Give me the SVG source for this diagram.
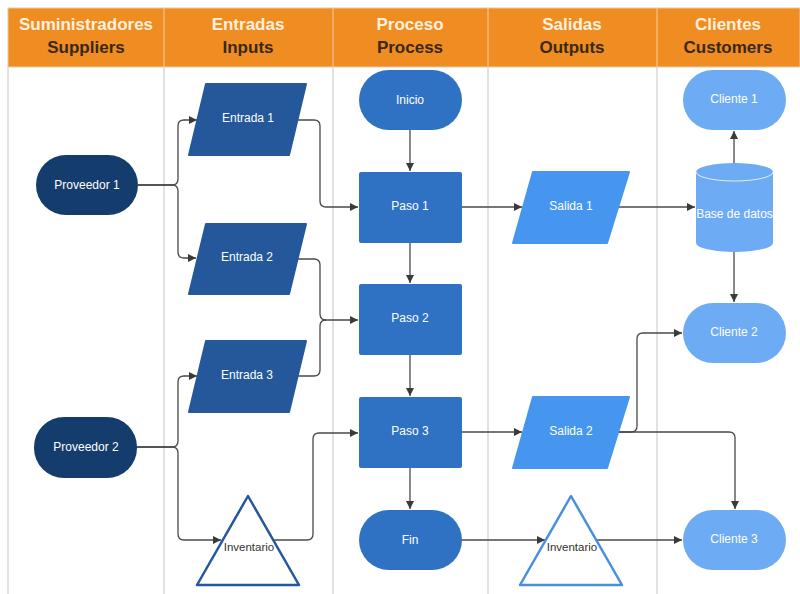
<svg xmlns="http://www.w3.org/2000/svg" width="800" height="594" viewBox="0 0 800 594">
  <defs>
    <marker id="arrow" viewBox="0 0 10 10" refX="10" refY="5" markerWidth="9" markerHeight="8" markerUnits="userSpaceOnUse" orient="auto">
      <path d="M0,0 L10,5 L0,10 Z" fill="#3a3a3a"/>
    </marker>
    <style>
      .hd1 { font-family: "Liberation Sans", Arial, sans-serif; font-weight: bold; font-size: 17px; fill: #fdf1de; text-anchor: middle; }
      .hd2 { font-family: "Liberation Sans", Arial, sans-serif; font-weight: bold; font-size: 17px; fill: #3a2816; text-anchor: middle; }
      .lbl { font-family: "Liberation Sans", Arial, sans-serif; font-size: 12px; fill: #ffffff; text-anchor: middle; dominant-baseline: central; }
      .lbl-dark { font-family: "Liberation Sans", Arial, sans-serif; font-size: 11.5px; fill: #333333; text-anchor: middle; dominant-baseline: central; }
      .lane { stroke: #d9d9d9; stroke-width: 1.5; fill: none; }
      .supplier { fill: #143c6d; }
      .input { fill: #24589b; stroke: #24589b; stroke-width: 2; stroke-linejoin: round; }
      .step { fill: #2f72c4; }
      .output { fill: #4695ef; stroke: #4695ef; stroke-width: 2; stroke-linejoin: round; }
      .client { fill: #6dabf4; }
      .conn { fill: none; stroke: #4a4a4a; stroke-width: 1.3; marker-end: url(#arrow); }
      .conn-plain { fill: none; stroke: #4a4a4a; stroke-width: 1.3; }
    </style>
  </defs>

  <rect x="0" y="0" width="800" height="594" fill="#ffffff"/>

  <!-- Swimlane header and dividers -->
  <g id="lanes">
    <rect x="8" y="8" width="792" height="59" fill="#ef8c22" stroke="#e9c9a2" stroke-width="1"/>
    <line x1="164" y1="8" x2="164" y2="67" stroke="#f6c48f" stroke-width="1.2"/>
    <line x1="333" y1="8" x2="333" y2="67" stroke="#f6c48f" stroke-width="1.2"/>
    <line x1="488" y1="8" x2="488" y2="67" stroke="#f6c48f" stroke-width="1.2"/>
    <line x1="657" y1="8" x2="657" y2="67" stroke="#f6c48f" stroke-width="1.2"/>
    <line class="lane" x1="8" y1="67" x2="8" y2="594"/>
    <line class="lane" x1="164" y1="67" x2="164" y2="594"/>
    <line class="lane" x1="333" y1="67" x2="333" y2="594"/>
    <line class="lane" x1="488" y1="67" x2="488" y2="594"/>
    <line class="lane" x1="657" y1="67" x2="657" y2="594"/>
    <text class="hd1" x="86" y="30">Suministradores</text>
    <text class="hd2" x="86" y="53">Suppliers</text>
    <text class="hd1" x="248" y="30">Entradas</text>
    <text class="hd2" x="248" y="53">Inputs</text>
    <text class="hd1" x="410" y="30">Proceso</text>
    <text class="hd2" x="410" y="53">Process</text>
    <text class="hd1" x="572" y="30">Salidas</text>
    <text class="hd2" x="572" y="53">Outputs</text>
    <text class="hd1" x="728" y="30">Clientes</text>
    <text class="hd2" x="728" y="53">Customers</text>
  </g>

  <!-- Connectors -->
  <g id="connectors">
    <path class="conn" d="M138,185 H172 Q178,185 178,179 V126 Q178,120 184,120 H197"/>
    <path class="conn" d="M138,185 H172 Q178,185 178,191 V252 Q178,258 184,258 H196"/>
    <path class="conn" d="M298,120 H314 Q320,120 320,126 V201 Q320,207 326,207 H358"/>
    <path class="conn" d="M297,259 H314 Q320,259 320,265 V314 Q320,320 326,320 H358"/>
    <path class="conn-plain" d="M297,376 H314 Q320,376 320,370 V326 Q320,320 326,320"/>
    <path class="conn" d="M137,447 H172 Q178,447 178,441 V382 Q178,376 184,376 H197"/>
    <path class="conn" d="M137,447 H172 Q178,447 178,453 V534 Q178,540 184,540 H221"/>
    <path class="conn" d="M273,540 H307 Q313,540 313,534 V439 Q313,433 319,433 H358"/>
    <path class="conn" d="M410,130 V171"/>
    <path class="conn" d="M410,243 V283"/>
    <path class="conn" d="M410,355 V396"/>
    <path class="conn" d="M410,468 V509"/>
    <path class="conn" d="M462,207 H522"/>
    <path class="conn" d="M618,207 H695"/>
    <path class="conn" d="M734,163 V131"/>
    <path class="conn" d="M734,252 V302"/>
    <path class="conn" d="M462,432 H522"/>
    <path class="conn" d="M618,432 H631 Q637,432 637,426 V339 Q637,333 643,333 H682"/>
    <path class="conn" d="M618,432 H729 Q735,432 735,438 V509"/>
    <path class="conn" d="M462,540 H545"/>
    <path class="conn" d="M597,540 H682"/>
  </g>

  <!-- Suppliers -->
  <g id="proveedor1">
    <rect class="supplier" x="36" y="155" width="102" height="60" rx="30"/>
    <text class="lbl" x="87" y="185">Proveedor 1</text>
  </g>
  <g id="proveedor2">
    <rect class="supplier" x="34" y="417" width="103" height="61" rx="30"/>
    <text class="lbl" x="86" y="447">Proveedor 2</text>
  </g>

  <!-- Inputs -->
  <g id="entrada1">
    <polygon class="input" points="206,84 306,84 289,155 189,155"/>
    <text class="lbl" x="248" y="118">Entrada 1</text>
  </g>
  <g id="entrada2">
    <polygon class="input" points="206,224 306,224 289,294 189,294"/>
    <text class="lbl" x="247" y="257">Entrada 2</text>
  </g>
  <g id="entrada3">
    <polygon class="input" points="206,341 306,341 289,412 189,412"/>
    <text class="lbl" x="247" y="375">Entrada 3</text>
  </g>
  <g id="inventario1">
    <polygon points="248,496 299,585 197,585" fill="#ffffff" stroke="#24589b" stroke-width="2.5" stroke-linejoin="round"/>
    <text class="lbl-dark" x="249" y="547">Inventario</text>
  </g>

  <!-- Process -->
  <g id="inicio">
    <rect class="step" x="359" y="70" width="103" height="60" rx="30"/>
    <text class="lbl" x="410" y="100">Inicio</text>
  </g>
  <g id="paso1">
    <rect class="step" x="359" y="172" width="103" height="71" rx="2"/>
    <text class="lbl" x="410" y="206">Paso 1</text>
  </g>
  <g id="paso2">
    <rect class="step" x="359" y="284" width="103" height="71" rx="2"/>
    <text class="lbl" x="410" y="318">Paso 2</text>
  </g>
  <g id="paso3">
    <rect class="step" x="359" y="397" width="103" height="71" rx="2"/>
    <text class="lbl" x="410" y="431">Paso 3</text>
  </g>
  <g id="fin">
    <rect class="step" x="359" y="510" width="103" height="60" rx="30"/>
    <text class="lbl" x="410" y="540">Fin</text>
  </g>

  <!-- Outputs -->
  <g id="salida1">
    <polygon class="output" points="533,172 629,172 607,243 513,243"/>
    <text class="lbl" x="571" y="206">Salida 1</text>
  </g>
  <g id="salida2">
    <polygon class="output" points="533,397 629,397 607,468 513,468"/>
    <text class="lbl" x="571" y="431">Salida 2</text>
  </g>
  <g id="inventario2">
    <polygon points="571,496 622,585 520,585" fill="#ffffff" stroke="#4a8fdc" stroke-width="2.5" stroke-linejoin="round"/>
    <text class="lbl-dark" x="572" y="547">Inventario</text>
  </g>

  <!-- Customers -->
  <g id="cliente1">
    <rect class="client" x="683" y="70" width="103" height="60" rx="30"/>
    <text class="lbl" x="734" y="99">Cliente 1</text>
  </g>
  <g id="base-de-datos">
    <path class="client" d="M696,172 A38.5,9 0 0 1 773,172 V243 A38.5,9 0 0 1 696,243 Z"/>
    <path d="M696,172 A38.5,9 0 0 0 773,172" fill="none" stroke="#e4f0fd" stroke-width="1"/>
    <text class="lbl" x="734.5" y="214">Base de datos</text>
  </g>
  <g id="cliente2">
    <rect class="client" x="683" y="303" width="103" height="60" rx="30"/>
    <text class="lbl" x="734" y="332">Cliente 2</text>
  </g>
  <g id="cliente3">
    <rect class="client" x="683" y="510" width="103" height="60" rx="30"/>
    <text class="lbl" x="734" y="539">Cliente 3</text>
  </g>
</svg>
